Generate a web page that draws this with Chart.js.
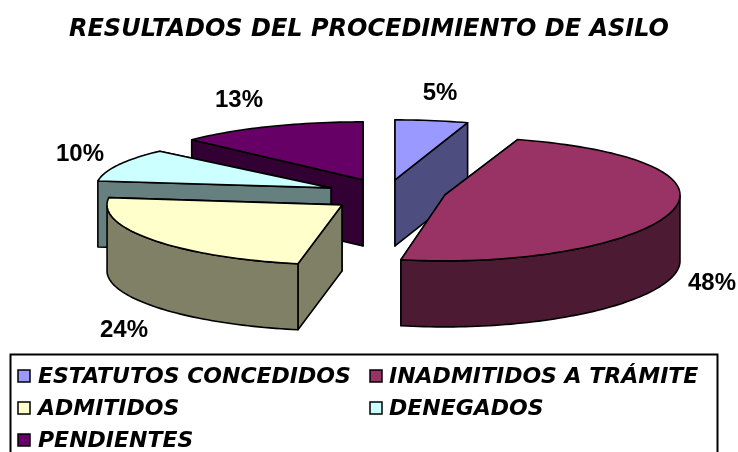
<!DOCTYPE html>
<html><head><meta charset="utf-8">
<style>html,body{margin:0;padding:0;background:#fff;overflow:hidden}#wrap{width:738px;height:452px;position:relative}</style>
<script src="https://cdn.jsdelivr.net/npm/chart.js@4"></script>
</head><body><div id="wrap"><canvas id="c" width="738" height="452"></canvas></div>
<script>
const titleText = 'RESULTADOS DEL PROCEDIMIENTO DE ASILO';
const categories = ['ESTATUTOS CONCEDIDOS','INADMITIDOS A TRÁMITE','ADMITIDOS','DENEGADOS','PENDIENTES'];
const values = [5,48,24,10,13];
const topColors = ['#9999FF','#993366','#FFFFCC','#CCFFFF','#660066'];
const wallColors = ['#4D4D80','#4D1A33','#808066','#668080','#330033'];
// presentation
const shiftX = [26,76,-27,-38,-6];
const shiftY = [-10,5,15,-2,-10];
const sliceRY = [62,62,58,55,60];
const slicePersp = [2,4,2,2,2];
const drawOrder = [4,3,2,0,1];
const labelX = [440,712,124,80,239];
const labelY = [93,283,330,154,100];
const PIE_R = 235, DEPTH = 66;
const LEG = {l:10.5,t:354.5,r:717.5,rowY:[376,408,440],colSw:[18,370],colTx:[38,389]};
const FONT_FAMILY = '"DejaVu Sans"';

function pt(arc,i,a){
  const u=Math.sin(a);
  return [arc.x+shiftX[i]+arc.outerRadius*Math.cos(a), arc.y+shiftY[i]+sliceRY[i]*u+slicePersp[i]*u*u];
}
function poly(ctx,pts,fill){
  ctx.beginPath();pts.forEach((p,k)=>k?ctx.lineTo(p[0],p[1]):ctx.moveTo(p[0],p[1]));ctx.closePath();
  ctx.fillStyle=fill;ctx.fill();ctx.stroke();
}
const pie3d={id:'pie3d',
  beforeDatasetDraw(){return false;},
  afterDatasetsDraw(chart){
    const ctx=chart.ctx,arcs=chart.getDatasetMeta(0).data;
    ctx.save();ctx.lineWidth=1.6;ctx.strokeStyle='#000';ctx.lineJoin='round';
    drawOrder.forEach(i=>{
      const arc=arcs[i],s=arc.startAngle,e=arc.endAngle;
      const c=[arc.x+shiftX[i],arc.y+shiftY[i]];
      const down=p=>[p[0],p[1]+DEPTH];
      const ps=pt(arc,i,s),pe=pt(arc,i,e);
      const sides=ps[1]<pe[1]?[ps,pe]:[pe,ps];
      sides.forEach(p=>poly(ctx,[c,p,down(p),down(c)],wallColors[i]));
      const n=Math.max(8,Math.ceil((e-s)*40)),rim=[];
      for(let k=0;k<=n;k++)rim.push(pt(arc,i,s+(e-s)*k/n));
      const front=[];
      for(let k=0;k<=n;k++){const a=s+(e-s)*k/n;if(Math.sin(a)>=-0.001)front.push(rim[k]);}
      if(front.length>1)poly(ctx,front.concat(front.slice().reverse().map(down)),wallColors[i]);
      poly(ctx,[c].concat(rim),topColors[i]);
    });
    ctx.restore();
  },
  afterDraw(chart){
    const ctx=chart.ctx,total=values.reduce((a,b)=>a+b,0);
    ctx.save();
    ctx.fillStyle='#000';ctx.textAlign='center';ctx.textBaseline='middle';
    ctx.font='bold 24px "Liberation Sans"';
    values.forEach((v,i)=>ctx.fillText(Math.round(v/total*100)+'%',labelX[i],labelY[i]));
    // legend
    ctx.strokeStyle='#000';ctx.lineWidth=2;
    ctx.beginPath();ctx.moveTo(LEG.l,chart.height);ctx.lineTo(LEG.l,LEG.t);ctx.lineTo(LEG.r,LEG.t);ctx.lineTo(LEG.r,chart.height);ctx.stroke();
    ctx.textAlign='left';ctx.font='italic bold 22px '+FONT_FAMILY;
    categories.forEach((t,i)=>{
      const col=i%2,row=Math.floor(i/2),y=LEG.rowY[row];
      ctx.fillStyle=topColors[i];ctx.lineWidth=1.5;
      ctx.fillRect(LEG.colSw[col],y-6,12,12);ctx.strokeRect(LEG.colSw[col],y-6,12,12);
      ctx.fillStyle='#000';ctx.fillText(t,LEG.colTx[col],y+1);
    });
    ctx.restore();
  }
};
new Chart(document.getElementById('c'),{
  type:'pie',
  data:{labels:categories,datasets:[{data:values,backgroundColor:topColors,radius:PIE_R}]},
  options:{responsive:false,animation:false,
    layout:{padding:{bottom:122}},
    plugins:{legend:{display:false},tooltip:{enabled:false},
      title:{display:true,text:titleText,color:'#000',font:{family:FONT_FAMILY,size:24,weight:'bold',style:'italic'},padding:{top:15,bottom:6}}}
  },
  plugins:[pie3d]
});
</script></body></html>
